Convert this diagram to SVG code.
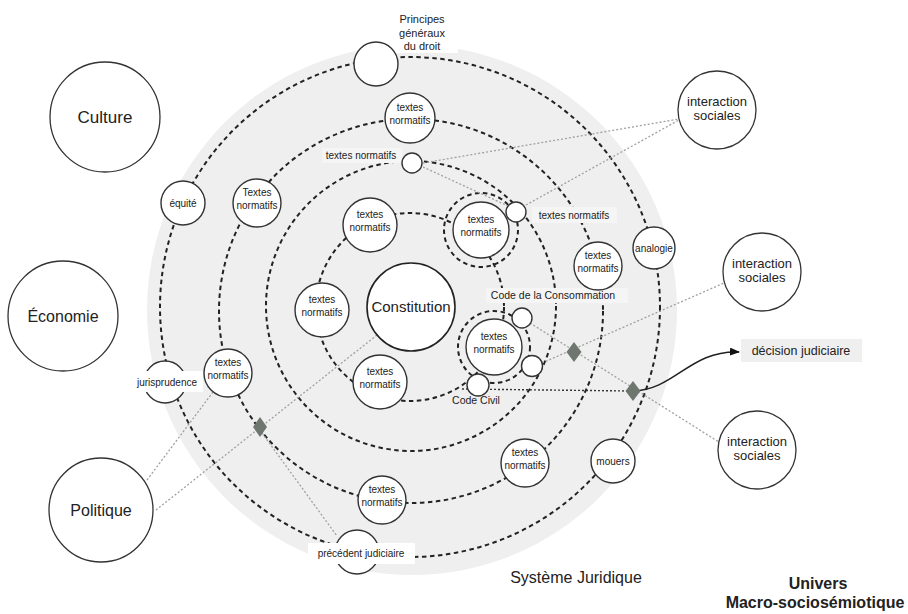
<svg xmlns="http://www.w3.org/2000/svg" width="908" height="614" viewBox="0 0 908 614">
<defs>
<style>
.ring{fill:none;stroke:#222;stroke-width:2;stroke-dasharray:4.5 3.5}
.node{fill:#fff;stroke:#333;stroke-width:1.4}
.big{fill:#fff;stroke:#333;stroke-width:1.3}
.dot{fill:none;stroke:#a0a0a0;stroke-width:1.3;stroke-dasharray:2 2}
.dotdark{fill:none;stroke:#333;stroke-width:1.4;stroke-dasharray:2 2}
.dia{fill:#6f766f}
.t{font-family:"Liberation Sans",Arial,sans-serif;fill:#222;text-anchor:middle}
.s10{font-size:10px}
.lbl{fill:#f5f5f5}
</style>
<marker id="arr" viewBox="0 0 10 8" refX="9" refY="4" markerWidth="10" markerHeight="8" markerUnits="userSpaceOnUse" orient="auto">
<path d="M0,0 L10,4 L0,8 Z" fill="#111"/>
</marker>
</defs>
<rect width="908" height="614" fill="#fff"/>
<circle cx="412" cy="310" r="265" fill="#efefef"/>
<g id="rings">
<circle class="ring" cx="410" cy="307" r="250"/>
<circle class="ring" cx="411" cy="311" r="192"/>
<circle class="ring" cx="411" cy="306" r="145"/>
<circle class="ring" cx="410" cy="307" r="94"/>
<circle class="ring" cx="481" cy="230" r="37"/>
<circle class="ring" cx="494" cy="347" r="36"/>
</g>
<rect x="386" y="0" width="72" height="53" fill="#fff"/>
<rect class="lbl" x="322" y="148" width="80" height="15"/>
<rect class="lbl" x="532" y="207" width="85" height="16"/>
<rect class="lbl" x="486" y="288" width="142" height="15"/>
<g id="connectors">
<line class="dot" x1="423" y1="163" x2="679" y2="119"/>
<line class="dot" x1="423" y1="167" x2="508" y2="206"/>
<line class="dot" x1="526" y1="205" x2="679" y2="120"/>
<line class="dot" x1="530" y1="323" x2="722" y2="444"/>
<line class="dot" x1="542" y1="363" x2="724" y2="283"/>
<line class="dotdark" x1="462" y1="389" x2="630" y2="391"/>
<path d="M633,391 C675,390 690,350 739,352" fill="none" stroke="#222" stroke-width="1.5" marker-end="url(#arr)"/>
<line class="dot" x1="377" y1="335" x2="156" y2="510"/>
<line class="dot" x1="213" y1="392" x2="147" y2="480"/>
<line class="dot" x1="262" y1="433" x2="337" y2="536"/>
</g>
<g id="n-culture"><circle class="big" cx="105" cy="117" r="55"/><text class="t" x="105" y="123" font-size="17">Culture</text></g>
<g id="n-economie"><circle class="big" cx="63" cy="316" r="55"/><text class="t" x="63" y="322" font-size="16">Économie</text></g>
<g id="n-politique"><circle class="big" cx="101" cy="510" r="52"/><text class="t" x="101" y="516" font-size="16">Politique</text></g>
<g id="n-inter1"><circle class="big" cx="717" cy="110" r="39"/><text class="t" x="717" y="106" font-size="13">interaction</text><text class="t" x="717" y="120" font-size="13">sociales</text></g>
<g id="n-inter2"><circle class="big" cx="762" cy="272" r="39"/><text class="t" x="762" y="268" font-size="13">interaction</text><text class="t" x="762" y="282" font-size="13">sociales</text></g>
<g id="n-inter3"><circle class="big" cx="757" cy="450" r="39"/><text class="t" x="757" y="446" font-size="13">interaction</text><text class="t" x="757" y="460" font-size="13">sociales</text></g>
<g id="n-decision"><rect x="741" y="339" width="121" height="23" fill="#efefef"/><text class="t" x="801" y="355" font-size="12.5">décision judiciaire</text></g>
<g id="n-constitution"><circle cx="411" cy="307" r="44" fill="#fff" stroke="#222" stroke-width="1.6"/><text class="t" x="411" y="312" font-size="15">Constitution</text></g>
<g id="n-principes"><circle class="node" cx="376" cy="64" r="22"/><text class="t" x="422" y="23" font-size="11">Principes</text><text class="t" x="422" y="37" font-size="11">généraux</text><text class="t" x="422" y="50" font-size="11">du droit</text></g>
<g id="n-equite"><circle class="node" cx="183" cy="203" r="22"/><text class="t s10" x="183" y="207">équité</text></g>
<g id="n-jurisprudence"><circle class="node" cx="165" cy="382" r="21"/><rect x="130" y="371" width="73" height="21" fill="#fff"/><text class="t s10" x="167" y="386">jurisprudence</text></g>
<g id="n-precedent"><circle class="node" cx="357" cy="552" r="22"/><rect x="308" y="543" width="107" height="21" fill="#fff"/><text class="t s10" x="361" y="557">précédent judiciaire</text></g>
<g id="n-mouers"><circle class="node" cx="613" cy="461" r="22"/><text class="t s10" x="613" y="465">mouers</text></g>
<g id="n-analogie"><circle class="node" cx="654" cy="248" r="21"/><text class="t s10" x="654" y="252">analogie</text></g>
<g id="n-tn1"><circle class="node" cx="410" cy="118" r="25"/><text class="t s10" x="410" y="111">textes</text><text class="t s10" x="410" y="124">normatifs</text></g>
<g id="n-tn2"><circle class="node" cx="257" cy="203" r="24"/><text class="t s10" x="257" y="196">Textes</text><text class="t s10" x="257" y="209">normatifs</text></g>
<g id="n-tn3"><circle class="node" cx="228" cy="373" r="24"/><text class="t s10" x="228" y="366">textes</text><text class="t s10" x="228" y="379">normatifs</text></g>
<g id="n-tn4"><circle class="node" cx="382" cy="500" r="24"/><text class="t s10" x="382" y="493">textes</text><text class="t s10" x="382" y="506">normatifs</text></g>
<g id="n-tn5"><circle class="node" cx="525" cy="463" r="24"/><text class="t s10" x="525" y="456">textes</text><text class="t s10" x="525" y="469">normatifs</text></g>
<g id="n-tn6"><circle class="node" cx="598" cy="266" r="24"/><text class="t s10" x="598" y="259">textes</text><text class="t s10" x="598" y="272">normatifs</text></g>
<g id="n-tn7"><circle class="node" cx="370" cy="225" r="27"/><text class="t s10" x="370" y="218">textes</text><text class="t s10" x="370" y="231">normatifs</text></g>
<g id="n-tn8"><circle class="node" cx="322" cy="310" r="27"/><text class="t s10" x="322" y="303">textes</text><text class="t s10" x="322" y="316">normatifs</text></g>
<g id="n-tn9"><circle class="node" cx="380" cy="382" r="27"/><text class="t s10" x="380" y="375">textes</text><text class="t s10" x="380" y="388">normatifs</text></g>
<g id="n-tn10"><circle class="node" cx="481" cy="230" r="28"/><text class="t s10" x="481" y="223">textes</text><text class="t s10" x="481" y="236">normatifs</text></g>
<g id="n-tn11"><circle class="node" cx="494" cy="347" r="28"/><text class="t s10" x="494" y="340">textes</text><text class="t s10" x="494" y="353">normatifs</text></g>
<g id="n-sc1"><circle class="node" cx="412" cy="163" r="10"/></g>
<g id="n-sc2"><circle class="node" cx="516" cy="212" r="10"/></g>
<g id="n-sc3"><circle class="node" cx="522" cy="318" r="10"/></g>
<g id="n-sc4"><circle class="node" cx="532" cy="366" r="10.5"/></g>
<g id="n-sc5"><circle class="node" cx="478" cy="385" r="11"/></g>
<g id="d1"><polygon class="dia" points="574,342 581.5,352 574,362 566.5,352"/></g>
<g id="d2"><polygon class="dia" points="633,381 640.5,391 633,401 625.5,391"/></g>
<g id="d3"><polygon class="dia" points="260,417 267,427 260,437 253,427"/></g>
<g id="labels">
<text class="t s10" x="361" y="159">textes normatifs</text>
<text class="t s10" x="574" y="219">textes normatifs</text>
<text class="t" x="553" y="299" font-size="10.5">Code de la Consommation</text>
<text class="t" x="476" y="404" font-size="10.5">Code Civil</text>
<text class="t" x="576" y="583" font-size="16">Système Juridique</text>
<text class="t" x="818" y="589" font-size="16" font-weight="bold">Univers</text>
<text class="t" x="815" y="608" font-size="16" font-weight="bold">Macro-sociosémiotique</text>
</g>
</svg>
